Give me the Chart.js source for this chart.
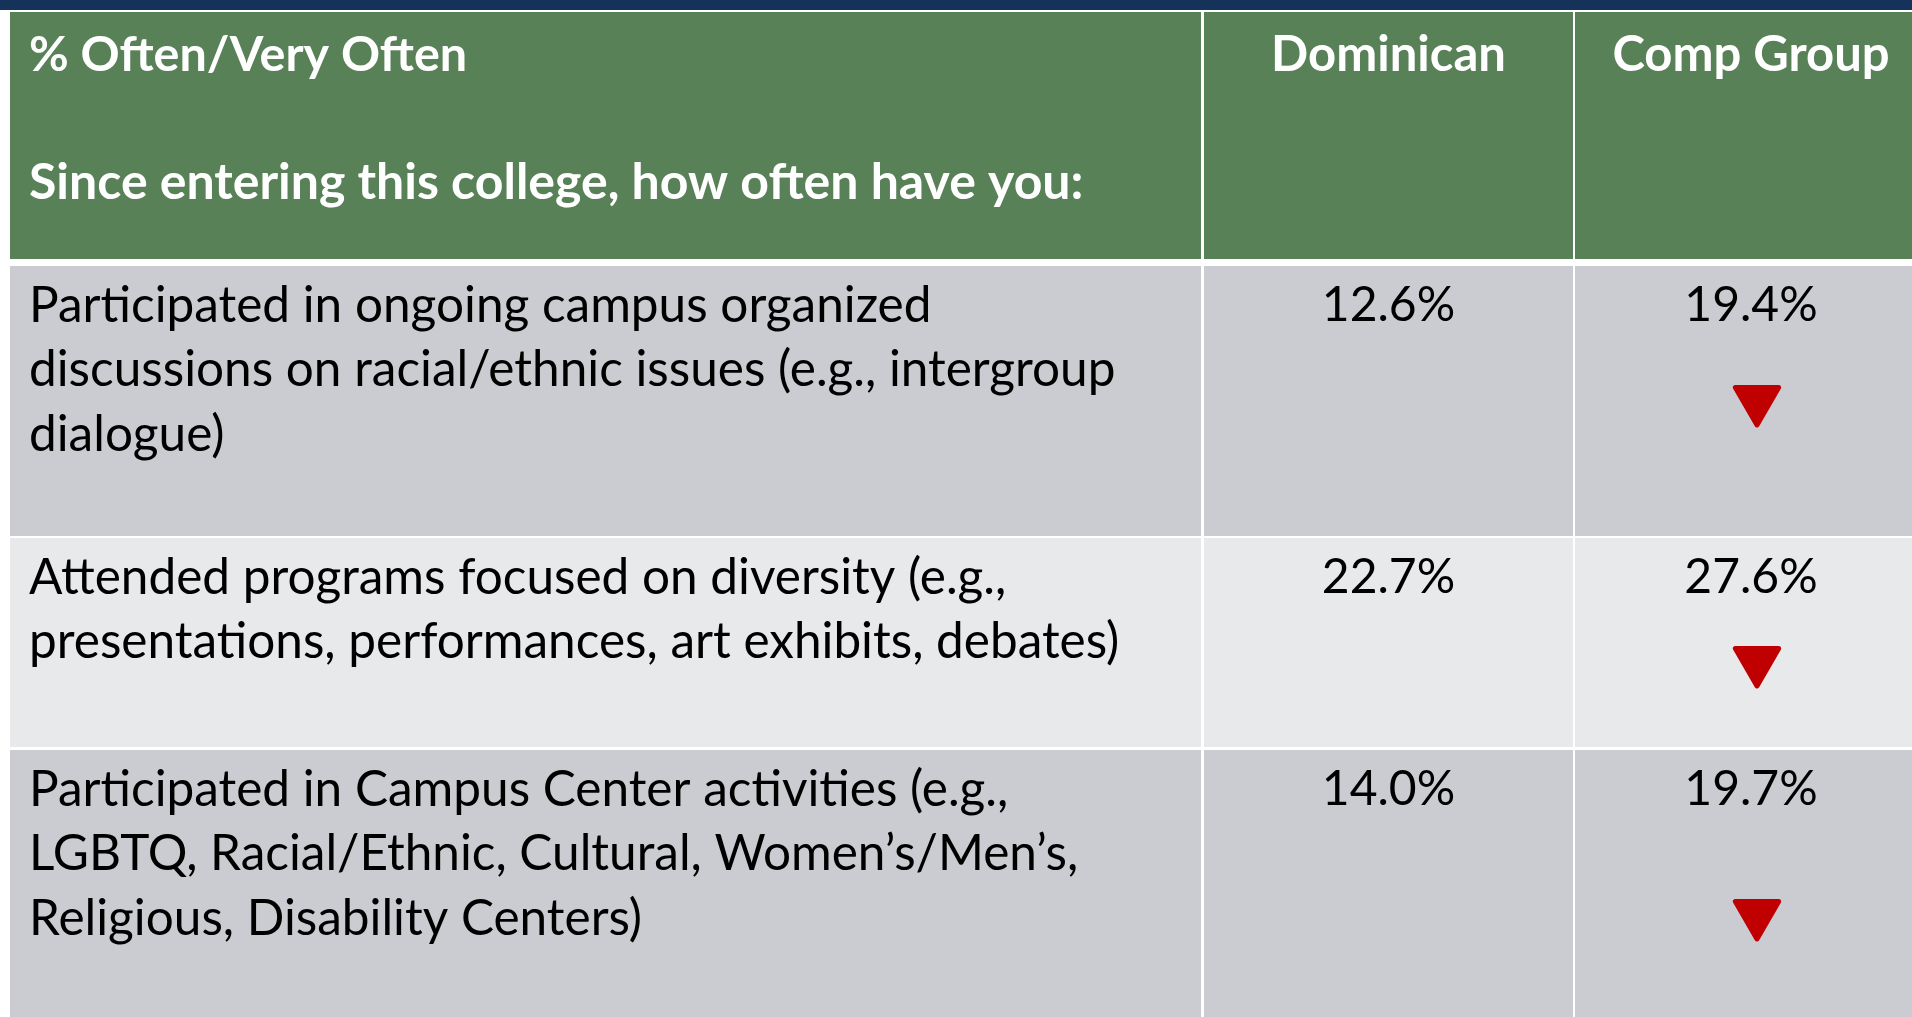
<!DOCTYPE html>
<html><head><meta charset="utf-8">
<script src="https://cdn.jsdelivr.net/npm/chart.js@4/dist/chart.umd.min.js"></script>
<style>html,body{margin:0;padding:0;background:#fff;overflow:hidden}#wrap{width:1912px;height:1017px;position:relative}</style>
</head><body><div id="wrap"><canvas id="c" width="1912" height="1017"></canvas></div>
<script>
// ---- data ----
const headerTitle = '% Often/Very Often';
const headerSubtitle = 'Since entering this college, how often have you:';
const groups = ['Dominican', 'Comp Group'];
const items = [
  ['Participated in ongoing campus organized', 'discussions on racial/ethnic issues (e.g., intergroup', 'dialogue)'],
  ['Attended programs focused on diversity (e.g.,', 'presentations, performances, art exhibits, debates)'],
  ['Participated in Campus Center activities (e.g.,', 'LGBTQ, Racial/Ethnic, Cultural, Women\u2019s/Men\u2019s,', 'Religious, Disability Centers)']
];
const dominican = [12.6, 22.7, 14.0];
const compGroup = [19.4, 27.6, 19.7];
const compSignificance = ['down', 'down', 'down'];

// ---- layout / style (layout units = px of the slide) ----
const layout = {
  W: 1912, H: 1017,
  band: [0, 10],
  cols: [[10, 1201], [1204, 1573], [1575, 1927]],
  rows: [[12, 259], [266, 536], [538, 747], [750, 1017]],
  textLeft: 29,
  headerLineY: [55, 183],
  groupLabelY: 55,
  firstLineOffset: 40,
  lineGap: 64.5,
  markerOffset: [134, 123, 164],
  markerDx: 6
};
const style = {
  band: '#14325A', header: '#588157', rowFill: ['#CBCCD1', '#E8E9EB', '#CBCCD1'],
  titleFont: 'bold 48.5px Lato', headFont: 'bold 50px Lato', groupFont: 'bold 49px Lato',
  bodyFont: '49.5px Lato', valueFont: '48px Lato',
  text: '#000000', headText: '#FFFFFF', marker: '#C00000'
};

const fmt = v => v.toFixed(1) + '%';

const tablePlugin = {
  id: 'table',
  beforeDatasetsDraw(chart) {
    const ctx = chart.ctx, xs = chart.scales.x, ys = chart.scales.y;
    const px = v => xs.getPixelForValue(v), py = v => ys.getPixelForValue(v);
    const rect = (x0, x1, y0, y1, c) => { ctx.fillStyle = c; ctx.fillRect(px(x0), py(y0), px(x1) - px(x0), py(y1) - py(y0)); };
    ctx.save();
    rect(0, layout.W, 0, layout.H, '#FFFFFF');
    rect(0, layout.W, layout.band[0], layout.band[1], style.band);
    layout.cols.forEach(c => rect(c[0], c[1], layout.rows[0][0], layout.rows[0][1], style.header));
    items.forEach((_, i) => {
      const r = layout.rows[i + 1];
      layout.cols.forEach(c => rect(c[0], c[1], r[0], r[1], style.rowFill[i]));
    });
    ctx.fillStyle = style.headText; ctx.textBaseline = 'middle';
    ctx.textAlign = 'left';
    ctx.font = style.titleFont;
    ctx.fillText(headerTitle, px(layout.textLeft), py(layout.headerLineY[0]));
    ctx.font = style.headFont;
    ctx.fillText(headerSubtitle, px(layout.textLeft), py(layout.headerLineY[1]));
    ctx.textAlign = 'center'; ctx.font = style.groupFont;
    groups.forEach((g, j) => {
      const c = layout.cols[j + 1];
      ctx.fillText(g, px((c[0] + c[1]) / 2), py(layout.groupLabelY));
    });
    ctx.fillStyle = style.text;
    items.forEach((lines, i) => {
      const top = layout.rows[i + 1][0] + layout.firstLineOffset;
      ctx.font = style.bodyFont; ctx.textAlign = 'left';
      lines.forEach((l, k) => ctx.fillText(l, px(layout.textLeft), py(top + k * layout.lineGap)));
      ctx.font = style.valueFont; ctx.textAlign = 'center';
      [dominican, compGroup].forEach((arr, j) => {
        const c = layout.cols[j + 1];
        ctx.fillText(fmt(arr[i]), px((c[0] + c[1]) / 2), py(top));
      });
    });
    ctx.restore();
    ctx.lineJoin = 'round';
  }
};

const compCol = layout.cols[2];
const markers = compSignificance.map((s, i) => s === 'down' ? {
  x: (compCol[0] + compCol[1]) / 2 + layout.markerDx,
  y: layout.rows[i + 1][0] + layout.markerOffset[i]
} : null).filter(Boolean);

new Chart(document.getElementById('c'), {
  type: 'scatter',
  data: { datasets: [{
    label: 'Comp Group significantly higher',
    data: markers,
    pointStyle: 'triangle', rotation: 180, pointRadius: 25, pointHoverRadius: 25,
    backgroundColor: style.marker, borderColor: style.marker, borderWidth: 5
  }] },
  options: {
    responsive: false, animation: false, events: [],
    layout: { padding: 0, autoPadding: false },
    scales: {
      x: { type: 'linear', min: 0, max: layout.W, display: false },
      y: { type: 'linear', min: 0, max: layout.H, reverse: true, display: false }
    },
    plugins: { legend: { display: false }, tooltip: { enabled: false } }
  },
  plugins: [tablePlugin]
});
</script></body></html>
